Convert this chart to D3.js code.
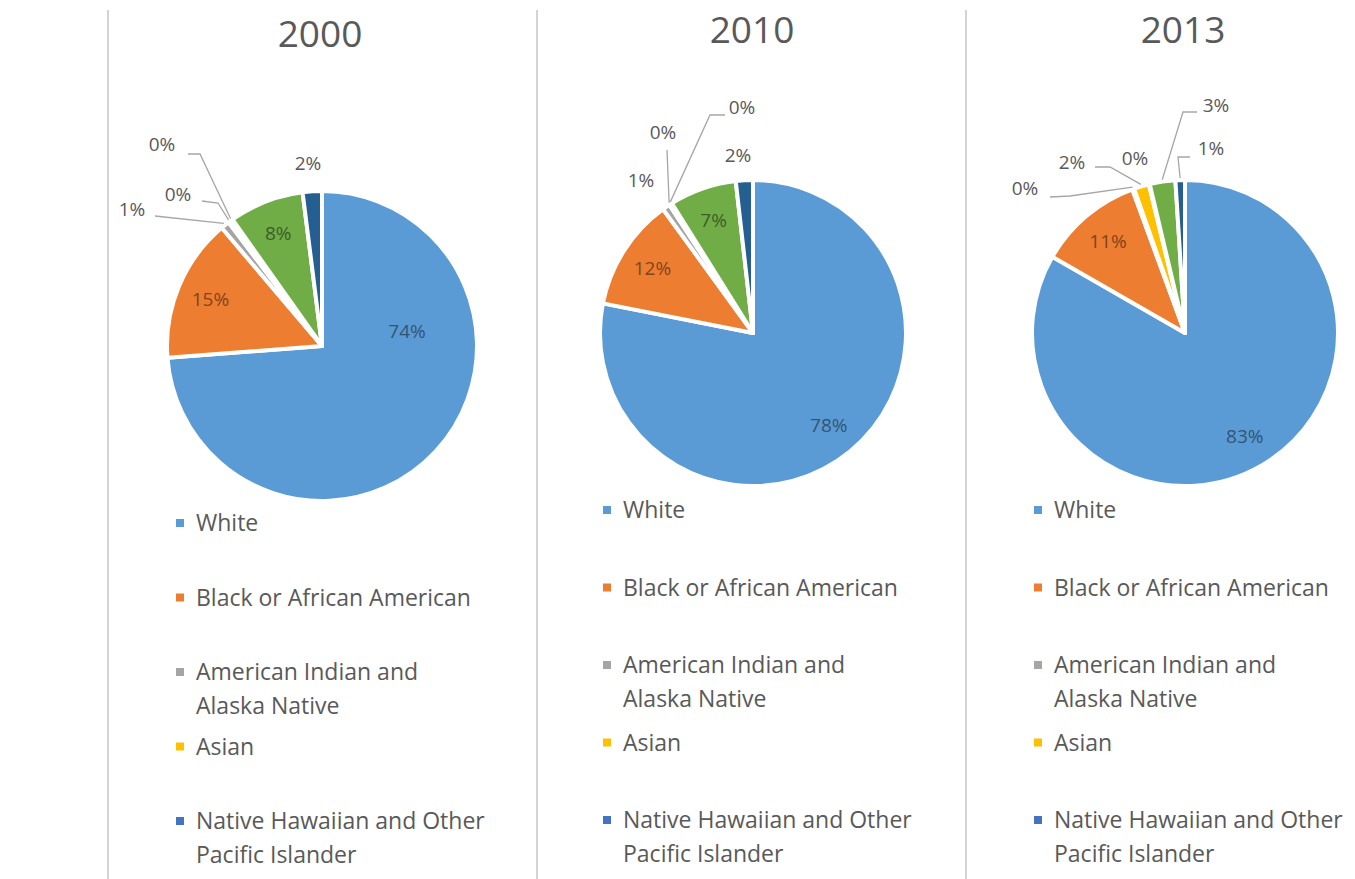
<!DOCTYPE html>
<html>
<head>
<meta charset="utf-8">
<script src="https://cdn.jsdelivr.net/npm/d3@7"></script>
<style>
  body { margin: 0; background: #fff; }
  svg { display: block; font-family: "Open Sans", sans-serif; }
</style>
</head>
<body>
<div class="chart"></div>
<script>
// categories in Excel series order (last two fall below the visible legend)
var categories = ["White", "Black or African American", "American Indian and Alaska Native",
                  "Asian", "Native Hawaiian and Other Pacific Islander",
                  "Some Other Race", "Two or More Races"];
var legendLines = [["White"], ["Black or African American"], ["American Indian and", "Alaska Native"],
                   ["Asian"], ["Native Hawaiian and Other", "Pacific Islander"],
                   ["Some Other Race"], ["Two or More Races"]];
var years = ["2000", "2010", "2013"];
var values2000 = [73.8, 15.0, 0.9, 0.3, 0.2, 7.8, 2.0];
var values2010 = [78.1, 11.9, 0.8, 0.2, 0.1, 7.1, 1.8];
var values2013 = [83.3, 11.1, 0.2, 1.6, 0.1, 2.7, 1.0];
var colors = ["#5B9BD5", "#ED7D31", "#A5A5A5", "#FFC000", "#4472C4", "#70AD47", "#255E91"];

var W = 1355, H = 879;

// panel layout
var panels = [
  { values: values2000, cx: 322, cy: 346, r: 155, titleX: 320, titleY: 47, lineX: 108,
    legX: 180, legY: 523, legStep: 74.5 },
  { values: values2010, cx: 753, cy: 333, r: 153, titleX: 752, titleY: 43, lineX: 537,
    legX: 607, legY: 510, legStep: 77.5 },
  { values: values2013, cx: 1185, cy: 333, r: 153, titleX: 1183, titleY: 43, lineX: 966,
    legX: 1038, legY: 510, legStep: 77.5 }
];

// data label placement, relative to pie centre (null = inside, on the slice)
var labelSpots = [
  [ {x: 85, y: -15}, null,
    {x: -190, y: -137, lead: [[-167, -130]]},
    {x: -144, y: -152, lead: [[-120, -145], [-104, -143]]},
    {x: -160, y: -202, lead: [[-134, -192], [-122, -192]]},
    null,
    {x: -14, y: -183} ],
  [ null, null,
    {x: -112, y: -153},
    {x: -90, y: -201, lead: [[-86, -183]]},
    {x: -11, y: -226, lead: [[-28, -218], [-43, -218]]},
    null,
    {x: -15, y: -178} ],
  [ null, null,
    {x: -160, y: -145, lead: [[-135, -136], [-115, -137]]},
    {x: -113, y: -171, lead: [[-90, -166], [-75, -166]]},
    {x: -50, y: -175},
    {x: 31, y: -228, lead: [[12, -221], [-2, -221]]},
    {x: 26, y: -185, lead: [[5, -176], [-7, -176]]} ]
];

var svg = d3.select(".chart").append("svg")
    .attr("width", W)
    .attr("height", H);

svg.append("rect").attr("width", W).attr("height", H).attr("fill", "#fff");

var color = d3.scaleOrdinal().domain(categories).range(colors);

var pie = d3.pie()
    .sort(null)
    .value(function(d) { return d.value; });

panels.forEach(function(p, pi) {
  // separator line
  svg.append("line")
      .attr("x1", p.lineX).attr("x2", p.lineX)
      .attr("y1", 10).attr("y2", H)
      .attr("stroke", "#d4d4d4")
      .attr("stroke-width", 2);

  svg.append("text")
      .attr("x", p.titleX)
      .attr("y", p.titleY)
      .attr("text-anchor", "middle")
      .attr("font-size", 37)
      .attr("fill", "#595959")
      .text(years[pi]);

  var data = categories.map(function(c, i) { return { name: c, value: p.values[i] }; });
  var arcs = pie(data);

  var arc = d3.arc().innerRadius(0).outerRadius(p.r);

  var g = svg.append("g")
      .attr("transform", "translate(" + p.cx + "," + p.cy + ")");

  g.selectAll("path.slice")
      .data(arcs)
      .enter()
      .append("path")
      .attr("class", "slice")
      .attr("d", arc)
      .attr("fill", function(d) { return color(d.data.name); })
      .attr("stroke", "#fff")
      .attr("stroke-width", 4)
      .attr("stroke-linejoin", "round");

  // data labels
  arcs.forEach(function(d, i) {
    var spot = labelSpots[pi][i];
    var txt = Math.round(d.data.value) + "%";
    var mid = (d.startAngle + d.endAngle) / 2;
    if (!spot) {
      var rr = p.r * 0.78;
      g.append("text")
          .attr("x", rr * Math.sin(mid))
          .attr("y", -rr * Math.cos(mid))
          .attr("dy", "0.35em")
          .attr("text-anchor", "middle")
          .attr("font-size", 19)
          .attr("fill", d3.color(color(d.data.name)).darker(1.7))
          .text(txt);
      return;
    }
    var inside = i === 0;
    if (spot.lead) {
      var end = [(p.r + 2) * Math.sin(mid), -(p.r + 2) * Math.cos(mid)];
      var pts = spot.lead.concat([end]);
      g.append("path")
          .attr("d", d3.line()(pts))
          .attr("fill", "none")
          .attr("stroke", "#a6a6a6")
          .attr("stroke-width", 1.3);
    }
    g.append("text")
        .attr("x", spot.x)
        .attr("y", spot.y)
        .attr("dy", "0.35em")
        .attr("text-anchor", "middle")
        .attr("font-size", 19)
        .attr("fill", inside ? d3.color(color(d.data.name)).darker(1.7) : "#595959")
        .text(txt);
  });

  // legend (entries below the picture's bottom edge are not drawn)
  var leg = svg.append("g");
  categories.forEach(function(c, i) {
    var y = p.legY + i * p.legStep;
    if (y > H) return;
    leg.append("rect")
        .attr("x", p.legX - 4)
        .attr("y", y - 4)
        .attr("width", 8)
        .attr("height", 8)
        .attr("fill", color(c));
    var t = leg.append("text")
        .attr("x", p.legX + 16)
        .attr("y", y)
        .attr("font-size", 23)
        .attr("fill", "#595959");
    legendLines[i].forEach(function(line, li) {
      t.append("tspan")
          .attr("x", p.legX + 16)
          .attr("y", y + li * 34)
          .attr("dy", "0.35em")
          .text(line);
    });
  });
});
</script>
</body>
</html>
